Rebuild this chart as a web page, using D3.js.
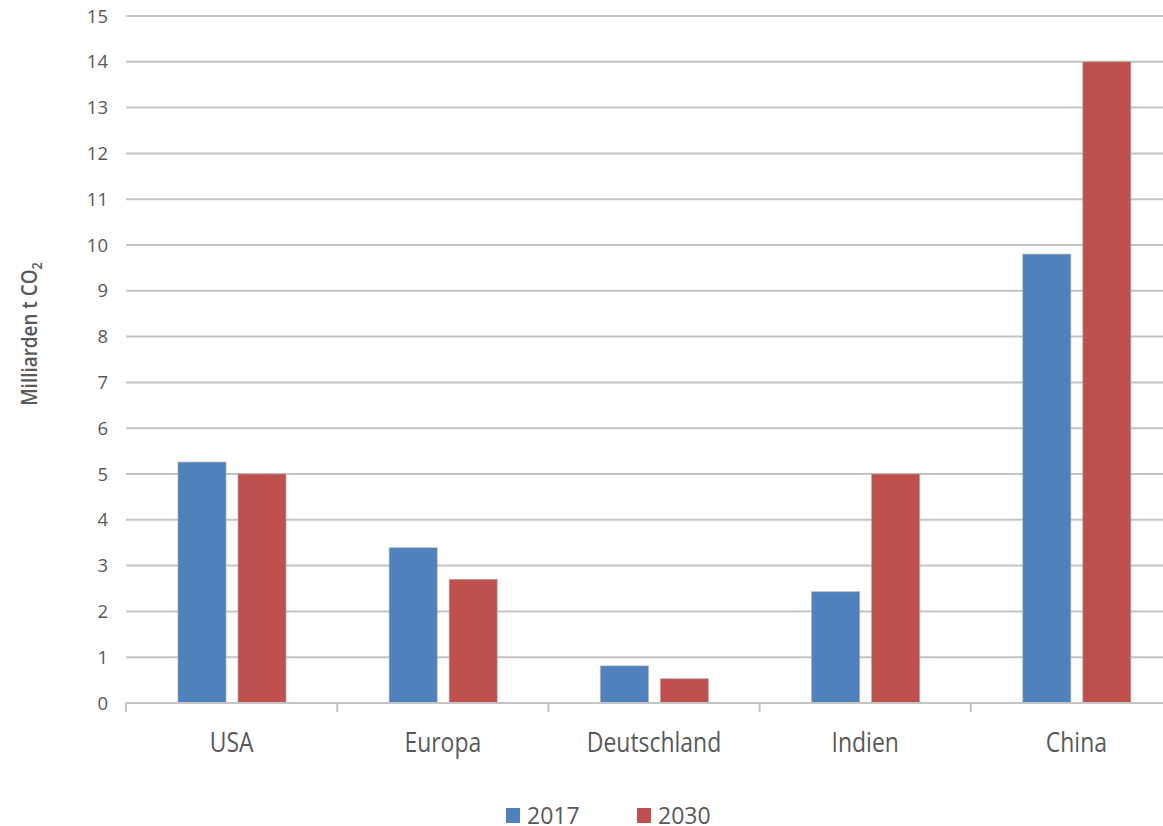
<!DOCTYPE html>
<html lang="de">
  <head>
    <meta charset="UTF-8" />
    <title>CO2-Emissionen 2017 und 2030</title>
    <script src="https://d3js.org/d3.v7.min.js"></script>
    <style>
      body {
        margin: 0;
        background: #fff;
        font-family: "Open Sans", sans-serif;
      }
      .grid line {
        stroke: #c4c4c4;
        stroke-width: 2px;
      }
      .tick-label {
        fill: #595959;
        font-size: 18.5px;
      }
      .cat-label {
        fill: #595959;
        font-size: 28px;
      }
    </style>
  </head>
  <body>
    <svg width="1163" height="826"></svg>
    <script>
      const categories = ["USA", "Europa", "Deutschland", "Indien", "China"];
      const seriesNames = ["2017", "2030"];
      const values2017 = [5.26, 3.39, 0.81, 2.43, 9.8];
      const values2030 = [5.0, 2.7, 0.53, 5.0, 14.0];
      const yTicks = d3.range(0, 16);
      const colors = ["#4f81bd", "#c0504d"];

      const svg = d3.select("svg");
      const plotLeft = 126, plotRight = 1182, plotTop = 16, plotBottom = 703;

      const x = d3.scaleBand().domain(categories).range([plotLeft, plotRight]);
      const y = d3.scaleLinear().domain([0, 15]).range([plotBottom, plotTop]);
      // Position der zwei Balken innerhalb einer Kategorie
      const xs = d3.scaleBand().domain(seriesNames).range([52, 160]).paddingInner(0.2);

      // Gitternetzlinien
      svg.append("g").attr("class", "grid")
        .selectAll("line").data(yTicks.filter((d) => d > 0)).enter()
        .append("line")
        .attr("x1", plotLeft).attr("x2", plotRight)
        .attr("y1", (d) => y(d)).attr("y2", (d) => y(d));

      // Y-Achse Beschriftung
      svg.append("g").selectAll("text").data(yTicks).enter()
        .append("text").attr("class", "tick-label")
        .attr("x", 108).attr("y", (d) => y(d)).attr("dy", "0.36em")
        .attr("text-anchor", "end")
        .text((d) => d);

      // Balken
      const rows = categories.map((c, i) => ({ cat: c, vals: [values2017[i], values2030[i]] }));
      const group = svg.append("g").selectAll("g").data(rows).enter()
        .append("g").attr("transform", (d) => `translate(${x(d.cat)},0)`);
      group.selectAll("rect")
        .data((d) => d.vals.map((v, j) => ({ v, s: seriesNames[j], j })))
        .enter().append("rect")
        .attr("x", (d) => xs(d.s))
        .attr("width", xs.bandwidth())
        .attr("y", (d) => y(d.v))
        .attr("height", (d) => y(0) - y(d.v))
        .attr("fill", (d) => colors[d.j])
        .attr("stroke", "#a6a6a6")
        .attr("stroke-opacity", 0.6)
        .attr("stroke-width", 1);

      // X-Achse
      const axis = svg.append("g");
      axis.append("line")
        .attr("x1", plotLeft).attr("x2", plotRight)
        .attr("y1", plotBottom).attr("y2", plotBottom)
        .attr("stroke", "#c4c4c4").attr("stroke-width", 2);
      axis.selectAll(".tk").data(categories.concat(["end"])).enter()
        .append("line")
        .attr("x1", (d, i) => plotLeft + i * x.bandwidth())
        .attr("x2", (d, i) => plotLeft + i * x.bandwidth())
        .attr("y1", plotBottom).attr("y2", plotBottom + 9)
        .attr("stroke", "#c4c4c4").attr("stroke-width", 2);
      // Beschriftung etwas schmal gezogen wie im Original
      axis.selectAll("text").data(categories).enter()
        .append("text").attr("class", "cat-label")
        .attr("transform", (d) => `translate(${x(d) + x.bandwidth() / 2},752) scale(0.82,1)`)
        .attr("text-anchor", "middle")
        .text((d) => d);

      // Achsentitel
      const yt = svg.append("text")
        .attr("transform", "translate(37,334) rotate(-90) scale(0.9,1)")
        .attr("text-anchor", "middle")
        .attr("fill", "#595959")
        .attr("font-size", 21)
        .attr("font-weight", 600);
      yt.append("tspan").text("Milliarden t CO");
      yt.append("tspan").attr("font-size", 14).attr("dy", 5).text("2");

      // Legende
      const legendX = [506, 637];
      const legend = svg.append("g").selectAll("g").data(seriesNames).enter()
        .append("g").attr("transform", (d, i) => `translate(${legendX[i]},808)`);
      legend.append("rect").attr("width", 14).attr("height", 15)
        .attr("fill", (d, i) => colors[i]);
      legend.append("text").attr("x", 21).attr("y", 15.5)
        .attr("fill", "#595959").attr("font-size", 23)
        .text((d) => d);
    </script>
  </body>
</html>
